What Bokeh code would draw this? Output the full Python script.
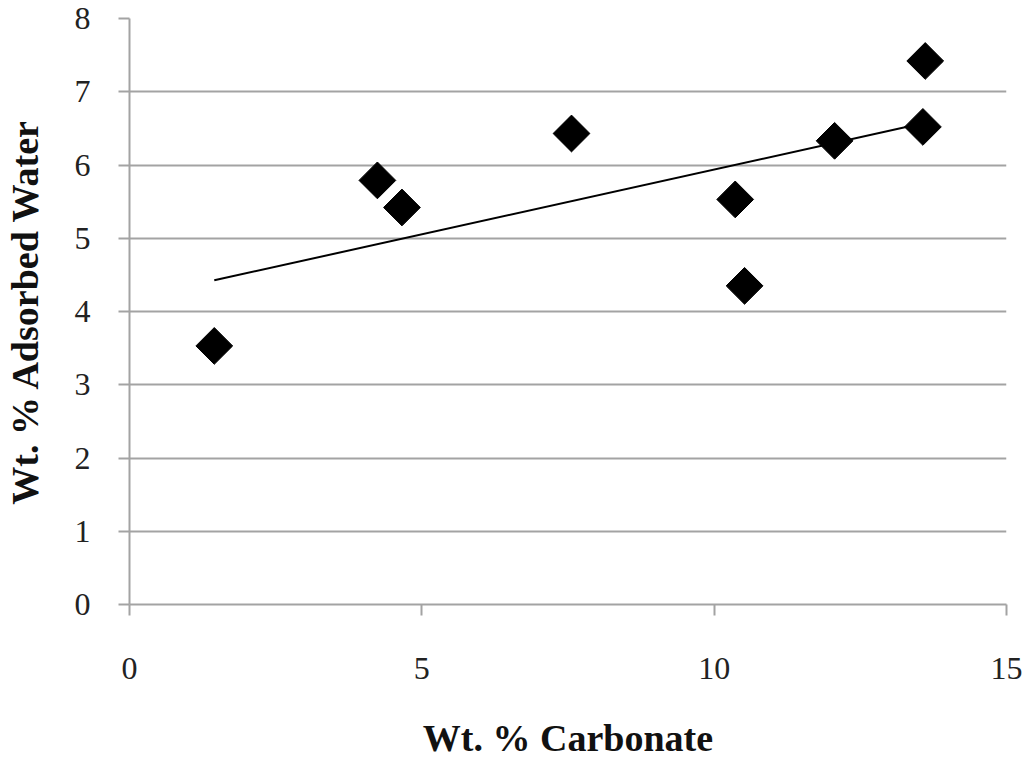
import numpy as np
from bokeh.plotting import figure
from bokeh.models import Range1d, FixedTicker
from bokeh.embed import file_html
from bokeh.resources import INLINE

# Data
carbonate = [1.45, 4.24, 4.66, 7.56, 10.36, 10.52, 12.06, 13.61, 13.57]
water = [3.53, 5.79, 5.42, 6.43, 5.53, 4.35, 6.33, 7.42, 6.52]
x_ticks = [0, 5, 10, 15]
y_ticks = [0, 1, 2, 3, 4, 5, 6, 7, 8]

# Linear trend line (least squares fit of the data)
slope, intercept = np.polyfit(carbonate, water, 1)
trend_x = [min(carbonate), max(carbonate)]
trend_y = [slope * v + intercept for v in trend_x]

GRAY = "#a3a3a3"
FONT = "Liberation Serif"

p = figure(width=1024, height=761, output_backend="svg", toolbar_location=None,
           x_range=Range1d(0, 15), y_range=Range1d(0, 8),
           min_border_left=129, min_border_right=18, min_border_top=18,
           min_border_bottom=157)
p.outline_line_color = None
p.background_fill_color = "white"

p.xgrid.grid_line_color = None
p.ygrid.grid_line_color = GRAY
p.ygrid.grid_line_width = 2

for ax in (p.xaxis[0], p.yaxis[0]):
    ax.axis_line_color = GRAY
    ax.axis_line_width = 2
    ax.major_tick_line_color = GRAY
    ax.major_tick_line_width = 2
    ax.major_tick_in = 0
    ax.major_tick_out = 11
    ax.minor_tick_line_color = None
    ax.major_label_text_font = FONT
    ax.major_label_text_font_size = "32px"
    ax.major_label_text_color = "#222222"
    ax.axis_label_text_font = FONT
    ax.axis_label_text_font_size = "38px"
    ax.axis_label_text_font_style = "bold"
    ax.axis_label_text_color = "#111111"

p.xaxis[0].ticker = FixedTicker(ticks=x_ticks)
p.yaxis[0].ticker = FixedTicker(ticks=y_ticks)
p.xaxis[0].axis_label = "Wt. % Carbonate"
p.yaxis[0].axis_label = "Wt. % Adsorbed Water"
p.xaxis[0].major_label_standoff = 42
p.xaxis[0].axis_label_standoff = 35
p.yaxis[0].major_label_standoff = 28
p.yaxis[0].axis_label_standoff = 26

p.line(trend_x, trend_y, line_color="black", line_width=2)
p.scatter(carbonate, water, marker="square", size=26, angle=np.pi / 4,
          fill_color="black", line_color="black")

open("out.html", "w").write(file_html(p, INLINE))
